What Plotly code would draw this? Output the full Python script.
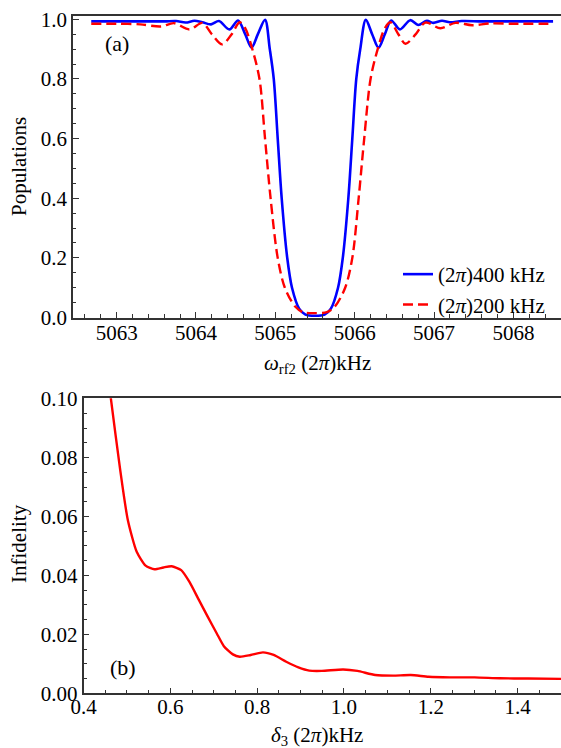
import plotly.graph_objects as go

# ---- panel (a) data: populations vs omega_rf2 ----
freq_400 = [5062.68, 5063.0, 5063.3, 5063.6, 5063.75, 5063.87, 5063.98, 5064.08, 5064.19,
            5064.29, 5064.42, 5064.53, 5064.62, 5064.70, 5064.78, 5064.87, 5064.93, 5064.98,
            5065.03, 5065.08, 5065.15, 5065.21, 5065.30, 5065.38, 5065.5, 5065.62, 5065.70,
            5065.79, 5065.85, 5065.92, 5065.97, 5066.02, 5066.07, 5066.14, 5066.22, 5066.30,
            5066.38, 5066.46, 5066.57, 5066.70, 5066.80, 5066.91, 5066.99, 5067.10, 5067.20,
            5067.35, 5067.6, 5068.0, 5068.5]
pop_400 = [0.993, 0.993, 0.993, 0.993, 0.994, 0.989, 0.995, 0.990, 0.983,
           0.994, 0.966, 0.996, 0.95, 0.905, 0.95, 0.998, 0.90, 0.80,
           0.60, 0.40, 0.20, 0.10, 0.03, 0.010, 0.006, 0.010, 0.03,
           0.10, 0.20, 0.40, 0.60, 0.80, 0.90, 0.998, 0.95, 0.905,
           0.95, 0.996, 0.966, 0.997, 0.981, 0.995, 0.988, 0.995, 0.990,
           0.994, 0.993, 0.993, 0.993]

freq_200 = [5062.68, 5063.0, 5063.3, 5063.56, 5063.72, 5063.92, 5064.08, 5064.20, 5064.33,
            5064.45, 5064.55, 5064.62, 5064.71, 5064.80, 5064.87, 5064.94, 5065.03, 5065.12,
            5065.25, 5065.35, 5065.5, 5065.65, 5065.75, 5065.88, 5065.97, 5066.05, 5066.12,
            5066.20, 5066.29, 5066.38, 5066.45, 5066.55, 5066.64, 5066.77, 5066.89, 5067.08,
            5067.27, 5067.48, 5067.7, 5068.0, 5068.5]
pop_200 = [0.985, 0.985, 0.983, 0.976, 0.987, 0.966, 0.988, 0.95, 0.916,
           0.95, 0.99, 0.97, 0.90, 0.80, 0.60, 0.40, 0.20, 0.10,
           0.037, 0.018, 0.015, 0.018, 0.037, 0.10, 0.20, 0.40, 0.60,
           0.80, 0.90, 0.97, 0.99, 0.95, 0.918, 0.95, 0.989, 0.970,
           0.988, 0.980, 0.986, 0.985, 0.985]

# ---- panel (b) data: infidelity vs delta_3 ----
delta3 = [0.460, 0.463, 0.484, 0.502, 0.5225, 0.543, 0.5634, 0.584, 0.603, 0.625, 0.644,
          0.666, 0.686, 0.707, 0.7233, 0.744, 0.760, 0.785, 0.8135, 0.838, 0.867,
          0.895, 0.920, 0.949, 0.998, 1.031, 1.072, 1.113, 1.154, 1.195, 1.244,
          1.301, 1.359, 1.424, 1.50]
infid = [0.1035, 0.100, 0.0763, 0.0588, 0.048, 0.0433, 0.0421, 0.0427, 0.0431, 0.0418, 0.0378,
         0.0316, 0.026, 0.0203, 0.016, 0.0132, 0.0124, 0.0130, 0.0139, 0.0130, 0.0107,
         0.0088, 0.0077, 0.0076, 0.0081, 0.0076, 0.0062, 0.0060, 0.0062, 0.0056, 0.0054,
         0.0054, 0.0051, 0.0050, 0.0049]

W, H = 561, 748
FONT = "Liberation Serif"
AX = "#333333"
FS = 21

fig = go.Figure()
fig.add_trace(go.Scatter(x=freq_400, y=pop_400, mode="lines", name="(2<i>π</i>)400 kHz",
                         line=dict(color="rgb(0,0,255)", width=2.6, shape="spline", smoothing=0.9),
                         xaxis="x", yaxis="y"))
fig.add_trace(go.Scatter(x=freq_200, y=pop_200, mode="lines", name="(2<i>π</i>)200 kHz",
                         line=dict(color="rgb(255,0,0)", width=2.4, dash="10px,5px",
                                   shape="spline", smoothing=0.9),
                         xaxis="x", yaxis="y"))
fig.add_trace(go.Scatter(x=delta3, y=infid, mode="lines", showlegend=False,
                         line=dict(color="rgb(255,0,0)", width=2.4, shape="spline", smoothing=0.6),
                         xaxis="x2", yaxis="y2"))

def px_x(p):
    return p / W

def px_y(p):
    return 1 - p / H

def axis_style(size):
    return dict(showgrid=False, zeroline=False, showline=True, linecolor=AX, linewidth=1.5,
                ticks="inside", ticklen=6, tickwidth=1, tickcolor=AX, automargin=False,
                tickfont=dict(family=FONT, size=size, color="black"))

fig.update_layout(
    width=W, height=H, margin=dict(l=0, r=0, t=0, b=0, autoexpand=False),
    paper_bgcolor="white", plot_bgcolor="white",
    font=dict(family=FONT, size=FS, color="black"),
    xaxis=dict(domain=[px_x(73), 1], range=[5062.45, 5068.6], tick0=5063, dtick=1,
               tickformat="d", mirror=True, anchor="y", ticklabelstandoff=-5,
               minor=dict(dtick=0.2, ticks="inside", ticklen=3.5, tickcolor=AX), **axis_style(FS)),
    yaxis=dict(domain=[px_y(317.7), px_y(15.7)], range=[-0.0005, 1.012], dtick=0.2,
               tickformat=".1f", anchor="x",
               minor=dict(dtick=0.05, ticks="inside", ticklen=3.5, tickcolor=AX), **axis_style(FS)),
    xaxis2=dict(domain=[px_x(83.5), 1], range=[0.3999, 1.5], tick0=0.4, dtick=0.2,
                tickformat=".1f", mirror=True, anchor="y2", ticklabelstandoff=-6,
                minor=dict(dtick=0.05, ticks="inside", ticklen=3.5, tickcolor=AX), **axis_style(FS)),
    yaxis2=dict(domain=[px_y(693.3), px_y(398.3)], range=[0, 0.1001], dtick=0.02,
                tickformat=".2f", anchor="x2",
                minor=dict(dtick=0.005, ticks="inside", ticklen=3.5, tickcolor=AX), **axis_style(FS)),
    legend=dict(x=px_x(398), y=px_y(254), xanchor="left", yanchor="top",
                bgcolor="rgba(0,0,0,0)", font=dict(family=FONT, size=FS),
                tracegroupgap=0, itemwidth=30),
    showlegend=True,
)

def label(text, x, y, size=FS, angle=0):
    return dict(text=text, x=px_x(x), y=px_y(y), xref="paper", yref="paper",
                xanchor="center", yanchor="middle", showarrow=False, textangle=angle,
                font=dict(family=FONT, size=size))

ann = [
    label("(a)", 117, 43, 22),
    label("(b)", 123, 667, 22),
    label("Populations", 19, 167, angle=-90),
    label("Infidelity", 19, 544, angle=-90),
    label("<i>ω</i><sub>rf2</sub> (2<i>π</i>)kHz", 317, 364),
    label("<i>δ</i><sub>3</sub> (2<i>π</i>)kHz", 317, 736),
]
fig.update_layout(annotations=ann)

fig.write_html("out.html", config={"displayModeBar": False},
               post_script="document.body.style.margin='0px';")
